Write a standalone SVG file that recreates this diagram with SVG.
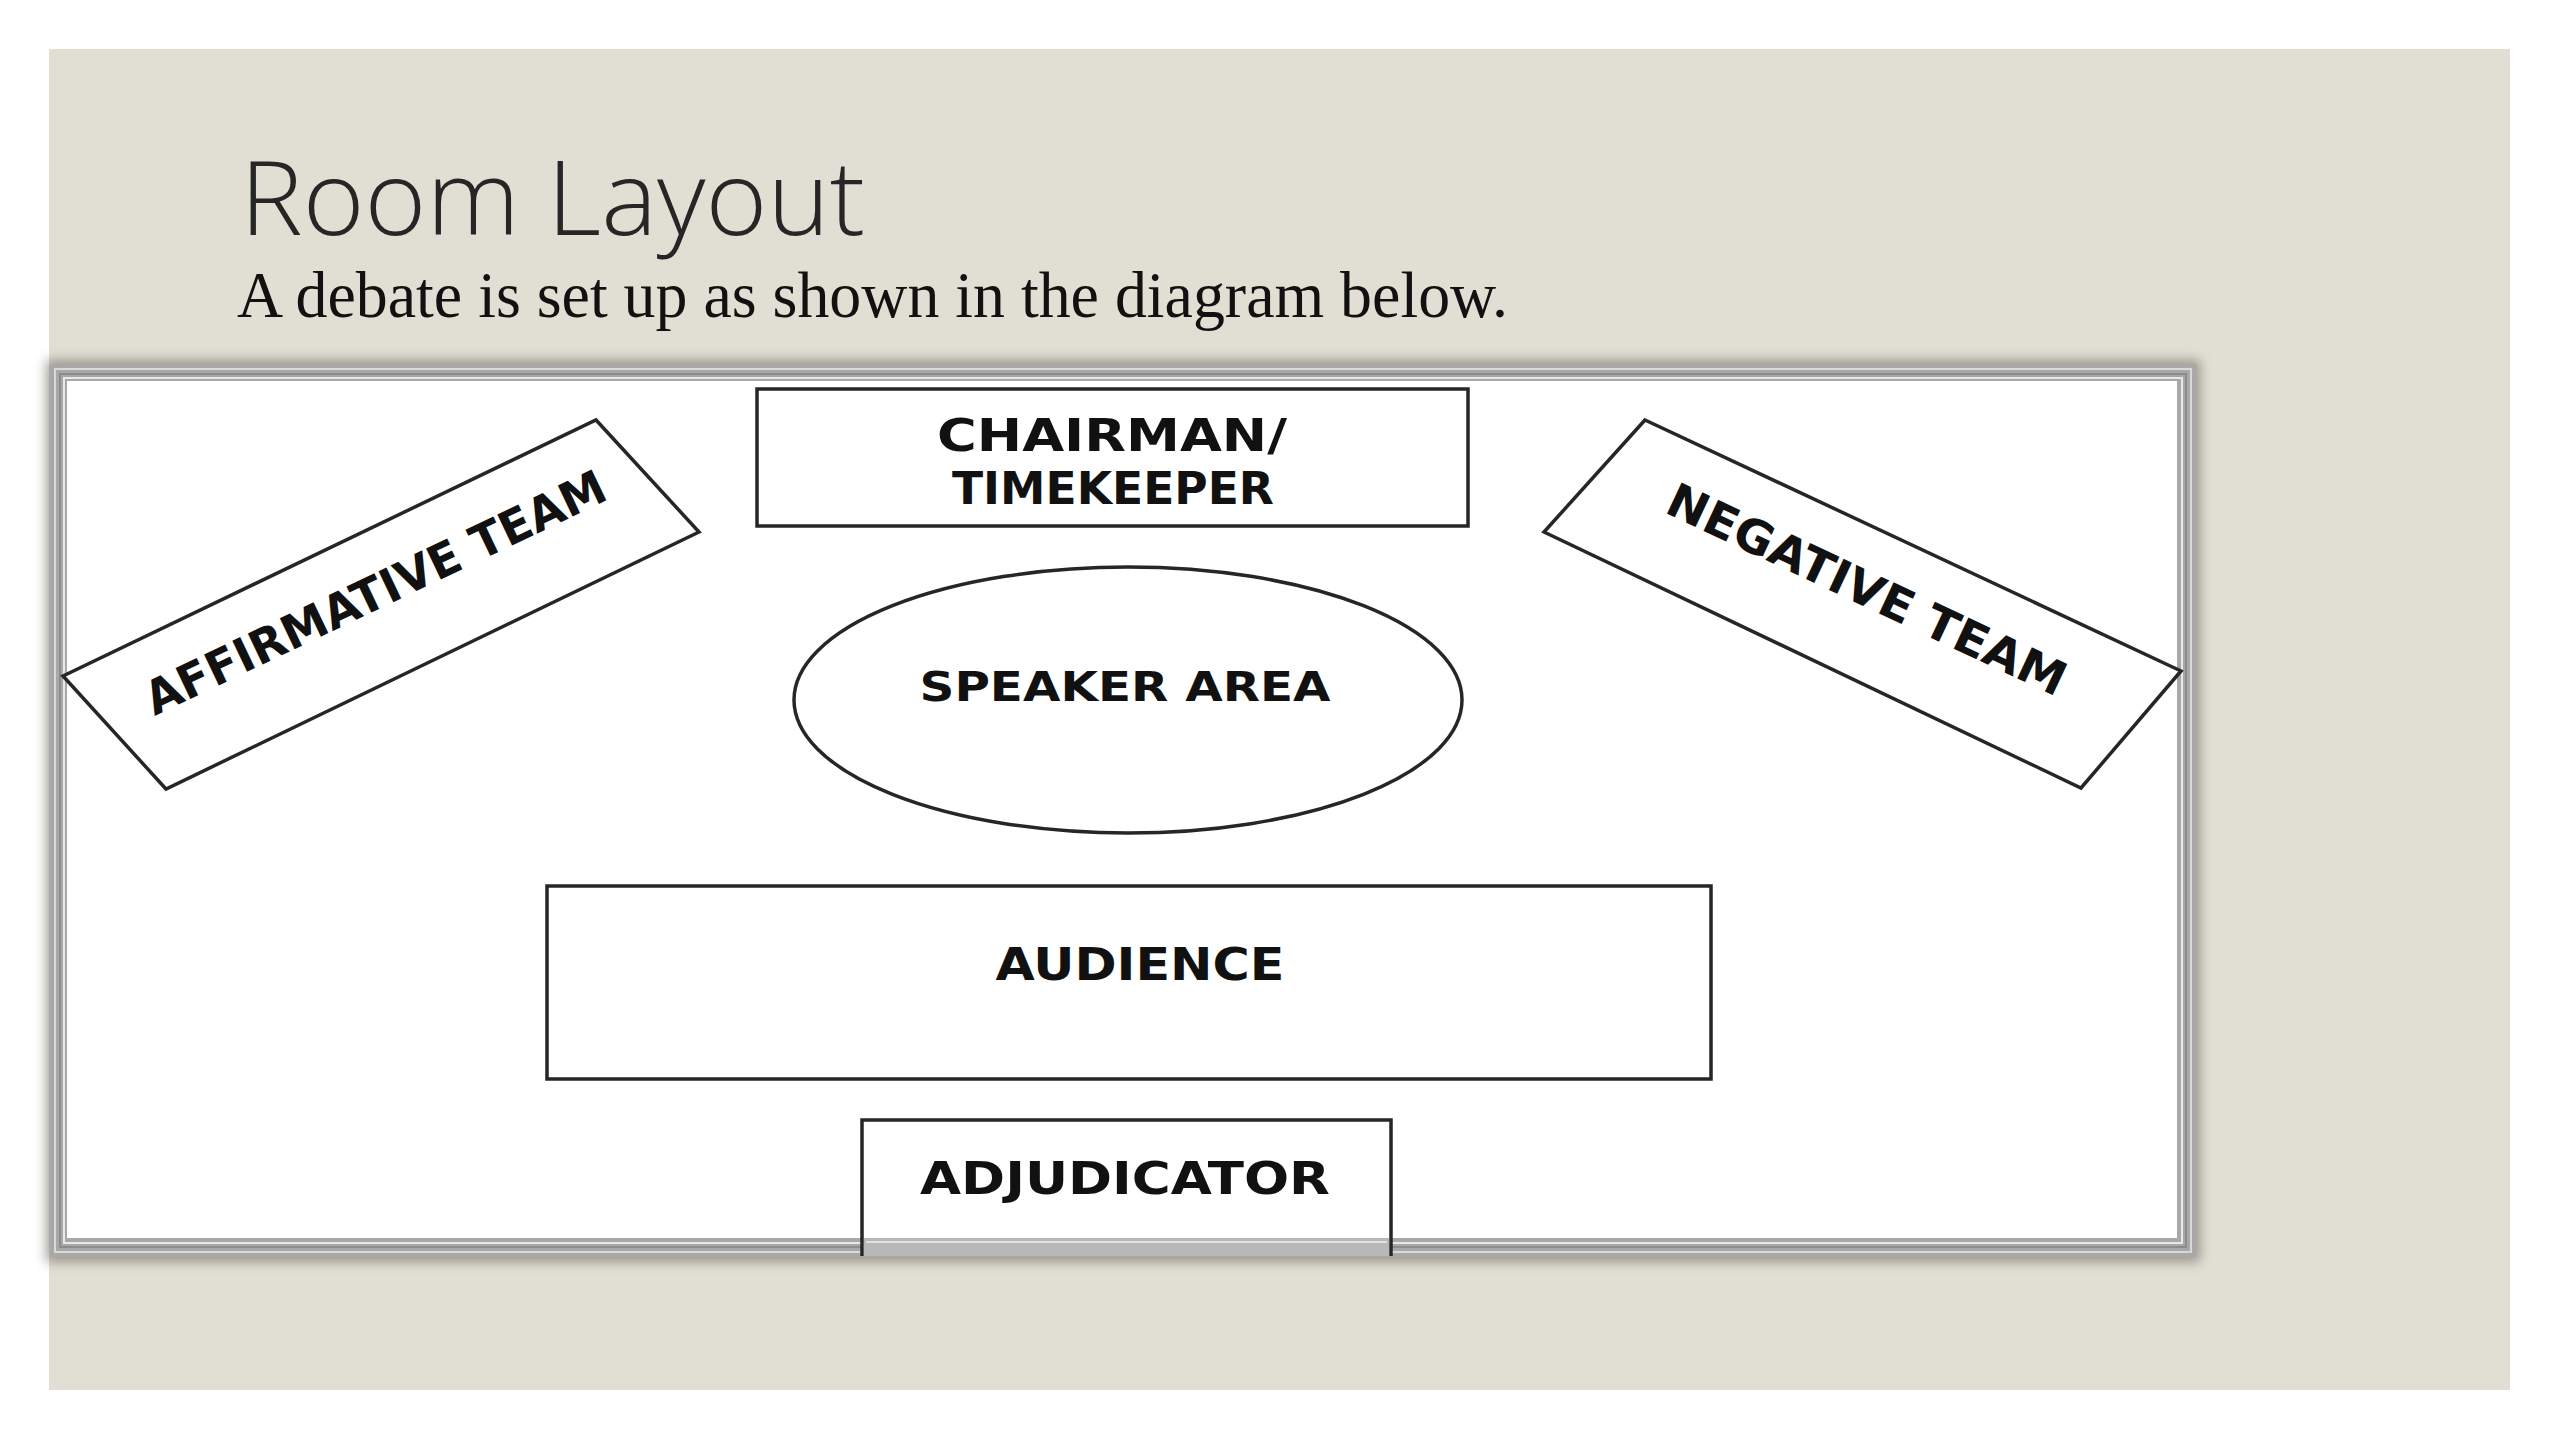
<svg xmlns="http://www.w3.org/2000/svg" width="2560" height="1440" viewBox="0 0 2560 1440">
  <style>
    .box { fill: #ffffff; stroke: #262626; stroke-width: 3.5; }
    .lbl { font-family: "DejaVu Sans", "Liberation Sans", sans-serif; font-weight: bold; fill: #111111; }
    .title { font-family: "Open Sans", "Lato", "Liberation Sans", sans-serif; font-weight: 300; fill: #262626; }
    .sub { font-family: "Liberation Serif", "DejaVu Serif", serif; fill: #111111; }
  </style>
  <defs>
    <filter id="shadow" x="-5%" y="-5%" width="110%" height="110%">
      <feGaussianBlur stdDeviation="6"/>
    </filter>
  </defs>

  <rect x="0" y="0" width="2560" height="1440" fill="#ffffff"/>
  <rect id="panel" x="49" y="49" width="2461" height="1341" fill="#e1ded3"/>

  <g id="heading">
    <text class="title" x="240" y="235" font-size="104" textLength="625" lengthAdjust="spacingAndGlyphs">Room Layout</text>
    <text class="sub" x="237" y="317" font-size="66" textLength="1271" lengthAdjust="spacingAndGlyphs">A debate is set up as shown in the diagram below.</text>
  </g>

  <g id="frame">
    <rect x="46" y="360" width="2154" height="902" fill="#7a7a72" opacity="0.7" filter="url(#shadow)"/>
    <rect x="50" y="364" width="2146" height="893" fill="#a8a8a8"/>
    <rect x="55" y="369" width="2136" height="883" fill="none" stroke="#d9d9d9" stroke-width="2"/>
    <rect x="60" y="374" width="2126" height="873" fill="none" stroke="#8c8c8c" stroke-width="2"/>
    <rect x="64" y="378" width="2118" height="865" fill="none" stroke="#e8e8e8" stroke-width="2"/>
    <rect x="67" y="381" width="2110" height="857" fill="#ffffff"/>
  </g>

  <g id="affirmative-team">
    <polygon class="box" points="63,676 596,420 699,532 166,789"/>
    <text class="lbl" transform="translate(375,592) rotate(-25.5)" x="0" y="17" font-size="47" text-anchor="middle" textLength="505" lengthAdjust="spacingAndGlyphs">AFFIRMATIVE TEAM</text>
  </g>

  <g id="chairman-timekeeper">
    <rect class="box" x="757" y="389" width="711" height="137"/>
    <text class="lbl" x="1112" y="451" font-size="44" text-anchor="middle" textLength="350" lengthAdjust="spacingAndGlyphs">CHAIRMAN/</text>
    <text class="lbl" x="1113" y="504" font-size="44" text-anchor="middle" textLength="322" lengthAdjust="spacingAndGlyphs">TIMEKEEPER</text>
  </g>

  <g id="negative-team">
    <polygon class="box" points="1645,420 2181,671 2081,788 1544,532"/>
    <text class="lbl" transform="translate(1867,589) rotate(25.2)" x="0" y="17" font-size="47" text-anchor="middle" textLength="435" lengthAdjust="spacingAndGlyphs">NEGATIVE TEAM</text>
  </g>

  <g id="speaker-area">
    <ellipse class="box" cx="1128" cy="700" rx="334" ry="133" stroke="#333333" stroke-width="3"/>
    <text class="lbl" x="1125" y="701" font-size="41" text-anchor="middle" textLength="411" lengthAdjust="spacingAndGlyphs">SPEAKER AREA</text>
  </g>

  <g id="audience">
    <rect class="box" x="547" y="886" width="1164" height="193"/>
    <text class="lbl" x="1140" y="980" font-size="44" text-anchor="middle" textLength="289" lengthAdjust="spacingAndGlyphs">AUDIENCE</text>
  </g>

  <g id="adjudicator">
    <path d="M862,1256 L862,1120 L1391,1120 L1391,1256" fill="#ffffff" stroke="#262626" stroke-width="3.5"/>
    <rect x="864" y="1238" width="525" height="18" fill="#b8b8b8"/>
    <line x1="866" y1="1242" x2="1387" y2="1242" stroke="#e0e0e0" stroke-width="2"/>
    <text class="lbl" x="1125" y="1194" font-size="44" text-anchor="middle" textLength="410" lengthAdjust="spacingAndGlyphs">ADJUDICATOR</text>
  </g>
</svg>
